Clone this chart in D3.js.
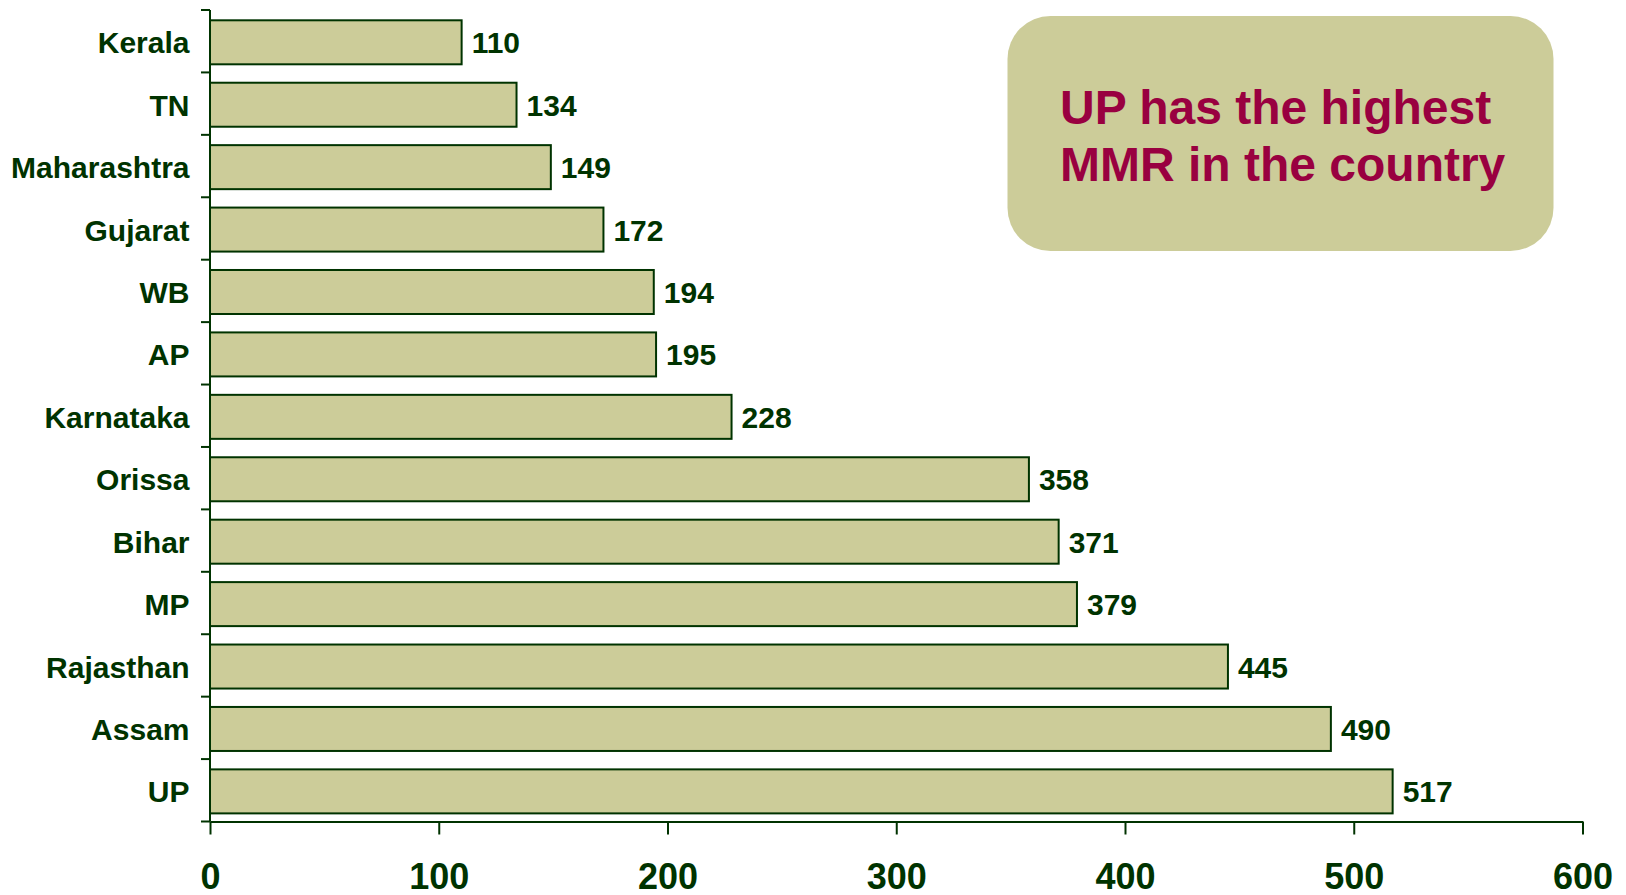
<!DOCTYPE html>
<html>
<head>
<meta charset="utf-8">
<script src="https://cdn.jsdelivr.net/npm/d3@7"></script>
<style>
  body { margin: 0; background: #fff; }
  svg text { font-family: "Liberation Sans", Arial, sans-serif; font-weight: bold; }
</style>
</head>
<body>
<svg class="chart"></svg>
<script>
const width = 1626;
const height = 895;

// states, top to bottom
const states = ["Kerala", "TN", "Maharashtra", "Gujarat", "WB", "AP", "Karnataka",
                "Orissa", "Bihar", "MP", "Rajasthan", "Assam", "UP"];
const mmr = [110, 134, 149, 172, 194, 195, 228, 358, 371, 379, 445, 490, 517];
const xTicks = [0, 100, 200, 300, 400, 500, 600];
const note = ["UP has the highest", "MMR in the country"];

const green = "#003300";

const svg = d3.select(".chart").attr("width", width).attr("height", height);

const x = d3.scaleLinear().domain([0, 600]).range([210, 1582.5]);
const y = d3.scaleBand().domain(states).range([10, 821.5]).padding(0);
const bw = y.bandwidth();
const barTop = bw * 0.165, barH = bw * 0.705;

// bars
svg.append("g").selectAll("rect")
  .data(states)
  .enter().append("rect")
  .attr("x", x(0))
  .attr("y", d => y(d) + barTop)
  .attr("width", (d, i) => x(mmr[i]) - x(0))
  .attr("height", barH)
  .attr("fill", "#cccc99")
  .attr("stroke", green)
  .attr("stroke-width", 2);

// value labels
svg.append("g").selectAll("text")
  .data(states)
  .enter().append("text")
  .attr("x", (d, i) => x(mmr[i]) + 10)
  .attr("y", d => y(d) + barTop + barH / 2 + 11)
  .attr("font-size", 30)
  .attr("fill", green)
  .text((d, i) => mmr[i]);

// x axis
const xAxis = svg.append("g")
  .attr("transform", `translate(0,${y.range()[1]})`)
  .call(d3.axisBottom(x).tickValues(xTicks).tickSize(13).tickSizeOuter(0));
xAxis.select(".domain").attr("stroke", green).attr("stroke-width", 2);
xAxis.selectAll(".tick line").attr("stroke", green).attr("stroke-width", 2);
xAxis.selectAll(".tick text")
  .attr("y", 67).attr("dy", 0)
  .attr("font-size", 36)
  .attr("font-family", "Liberation Sans, Arial, sans-serif")
  .attr("font-weight", "bold")
  .attr("fill", green);

// y axis: line plus ticks on band boundaries
const yAxis = svg.append("g");
yAxis.append("line")
  .attr("x1", x(0)).attr("x2", x(0))
  .attr("y1", y.range()[0]).attr("y2", y.range()[1])
  .attr("stroke", green).attr("stroke-width", 2);
const bounds = states.map(d => y(d)).concat([y.range()[1]]);
yAxis.selectAll(".ytick")
  .data(bounds)
  .enter().append("line")
  .attr("x1", x(0) - 9).attr("x2", x(0))
  .attr("y1", d => d).attr("y2", d => d)
  .attr("stroke", green).attr("stroke-width", 2);
yAxis.selectAll("text")
  .data(states)
  .enter().append("text")
  .attr("x", 189.5)
  .attr("y", d => y(d) + barTop + barH / 2 + 11)
  .attr("text-anchor", "end")
  .attr("font-size", 30)
  .attr("fill", green)
  .text(d => d);

// note box
const box = svg.append("g");
box.append("rect")
  .attr("x", 1007.5).attr("y", 16)
  .attr("width", 546).attr("height", 235)
  .attr("rx", 43).attr("ry", 43)
  .attr("fill", "#cccc99");
box.selectAll("text")
  .data(note)
  .enter().append("text")
  .attr("x", 1060)
  .attr("y", (d, i) => 124 + i * 57)
  .attr("font-size", 48)
  .attr("fill", "#990040")
  .text(d => d);
</script>
</body>
</html>
